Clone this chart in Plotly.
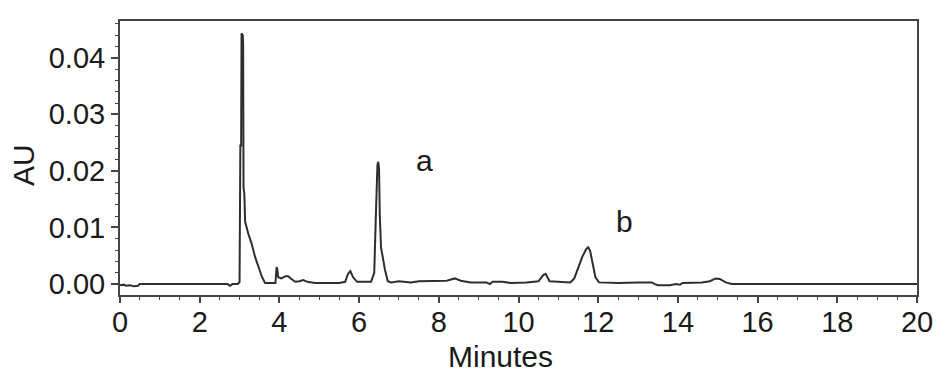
import plotly.graph_objects as go

# Chromatogram trace (minutes, AU)
time_min = [0.00, 0.10, 0.15, 0.25, 0.35, 0.45, 0.50, 1.00, 2.00, 2.70, 2.76, 2.82, 2.95,
            3.00, 3.02, 3.04, 3.05, 3.08, 3.09, 3.10, 3.12, 3.14, 3.22, 3.30, 3.39, 3.47,
            3.56, 3.64, 3.80, 3.90, 3.93, 3.95, 3.97, 4.05, 4.15, 4.22, 4.30, 4.40, 4.50,
            4.60, 4.70, 4.90, 5.50, 5.65, 5.72, 5.78, 5.85, 5.95, 6.30, 6.38, 6.42, 6.44,
            6.46, 6.48, 6.50, 6.52, 6.55, 6.60, 6.65, 6.72, 6.80, 7.00, 7.10, 7.30, 7.50,
            8.00, 8.20, 8.40, 8.55, 8.80, 9.20, 9.28, 9.35, 9.60, 9.80, 10.20, 10.50, 10.62,
            10.68, 10.78, 11.30, 11.40, 11.50, 11.60, 11.70, 11.75, 11.80, 11.87, 11.93,
            12.02, 12.50, 13.00, 13.35, 13.42, 13.50, 13.80, 13.95, 14.05, 14.12, 14.60,
            14.80, 14.95, 15.05, 15.20, 15.35, 20.00]
absorbance = [-0.0002, -0.0001, -0.0003, -0.0002, -0.0004, -0.0003, 0.0000, 0.0000, 0.0000,
              0.0000, -0.0003, 0.0000, 0.0000,
              0.0003, 0.0245, 0.0245, 0.0443, 0.0440, 0.0425, 0.0170, 0.0160, 0.0110, 0.0089,
              0.0072, 0.0048, 0.0030,
              0.0013, 0.0002, 0.0002, 0.0002, 0.0030, 0.0025, 0.0012, 0.0010, 0.0014, 0.0014,
              0.0009, 0.0004, 0.0005,
              0.0007, 0.0004, 0.0002, 0.0002, 0.0004, 0.0018, 0.0023, 0.0012, 0.0004, 0.0004,
              0.0020, 0.0120, 0.0168,
              0.0210, 0.0216, 0.0205, 0.0120, 0.0065, 0.0045, 0.0025, 0.0005, 0.0003, 0.0005,
              0.0004, 0.0003, 0.0005,
              0.0005, 0.0006, 0.0010, 0.0006, 0.0003, 0.0003, 0.0000, 0.0004, 0.0004, 0.0002,
              0.0003, 0.0005, 0.0016,
              0.0018, 0.0005, 0.0003, 0.0010, 0.0030, 0.0048, 0.0062, 0.0065, 0.0058, 0.0030,
              0.0012,
              0.0003, 0.0002, 0.0003, 0.0003, 0.0000, -0.0002, -0.0002, 0.0000, -0.0001,
              0.0002, 0.0003,
              0.0005, 0.0010, 0.0009, 0.0003, 0.0000, 0.0000]

x_ticks = [0, 2, 4, 6, 8, 10, 12, 14, 16, 18, 20]
y_ticks = [0.00, 0.01, 0.02, 0.03, 0.04]
y_tick_labels = ["0.00", "0.01", "0.02", "0.03", "0.04"]

peak_labels = ["a", "b"]
peak_label_x = [7.63, 12.65]
peak_label_y = [0.0218, 0.0110]

FONT = "Arial, Liberation Sans, sans-serif"
AXIS_COLOR = "#444444"
TEXT_COLOR = "#1a1a1a"

fig = go.Figure()
fig.add_trace(go.Scatter(x=time_min, y=absorbance, mode="lines",
                         line=dict(color="#2e2e2e", width=2), showlegend=False))

for lab, lx, ly in zip(peak_labels, peak_label_x, peak_label_y):
    fig.add_annotation(x=lx, y=ly, xref="x", yref="y", text=lab, showarrow=False,
                       font=dict(family=FONT, size=30, color=TEXT_COLOR))

fig.add_annotation(x=0.478, y=-0.224, xref="paper", yref="paper", text="Minutes",
                   showarrow=False, xanchor="center", yanchor="middle",
                   font=dict(family=FONT, size=30, color=TEXT_COLOR))
fig.add_annotation(x=-0.1205, y=0.4746, xref="paper", yref="paper", text="AU",
                   showarrow=False, textangle=-90, xanchor="center", yanchor="middle",
                   font=dict(family=FONT, size=30, color=TEXT_COLOR))

fig.update_xaxes(range=[0, 20], tickvals=x_ticks, ticktext=[str(v) for v in x_ticks],
                 showgrid=False, zeroline=False, showline=True, linecolor=AXIS_COLOR,
                 linewidth=2, mirror=True, ticks="outside", ticklen=6, tickwidth=1.5,
                 tickcolor=AXIS_COLOR, ticklabelstandoff=-6,
                 minor=dict(dtick=0.5, ticks="outside", ticklen=3, tickcolor=AXIS_COLOR,
                            tickwidth=1.2),
                 tickfont=dict(family=FONT, size=29, color=TEXT_COLOR))
fig.update_yaxes(range=[-0.00193, 0.04649], tickvals=y_ticks, ticktext=y_tick_labels,
                 showgrid=False, zeroline=False, showline=True, linecolor=AXIS_COLOR,
                 linewidth=2, mirror=True, ticks="outside", ticklen=7, tickwidth=1.5,
                 tickcolor=AXIS_COLOR,
                 minor=dict(dtick=0.002, ticks="outside", ticklen=3, tickcolor=AXIS_COLOR,
                            tickwidth=1.2),
                 tickfont=dict(family=FONT, size=29, color=TEXT_COLOR))

# The page body adds an 8px offset, so margins compensate for it
fig.update_layout(width=945, height=389, margin=dict(l=112, r=36, t=11, b=102),
                  plot_bgcolor="white", paper_bgcolor="white")

fig.write_html("out.html")
